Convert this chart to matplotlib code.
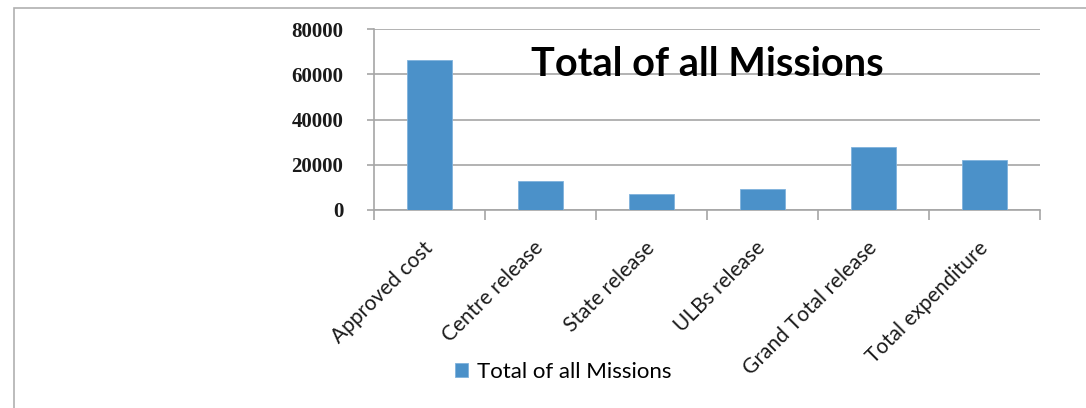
import matplotlib.pyplot as plt
from matplotlib.patches import Rectangle

# data
categories = ['Approved cost', 'Centre release', 'State release',
              'ULBs release', 'Grand Total release', 'Total expenditure']
values = [66300, 12900, 7000, 9100, 28000, 22000]
series_name = 'Total of all Missions'
yticks = [0, 20000, 40000, 60000, 80000]

bar_color = '#4b91c9'
grid_color = '#a6a6a6'

fig = plt.figure(figsize=(10.86, 4.08), dpi=100)
ax = fig.add_axes([0.3444, 0.4853, 0.6132, 0.4436])

x = list(range(len(categories)))
ax.bar(x, values, width=0.4, color=bar_color, edgecolor='#7fb2dc',
       linewidth=0.6, label=series_name, zorder=3)

ax.set_xlim(-0.5, len(categories) - 0.5)
ax.set_ylim(0, 80000)
ax.set_yticks(yticks)
ax.set_yticklabels([str(v) for v in yticks], family='Liberation Serif',
                   fontweight='bold', fontsize=15, color='#1a1a1a')
ax.yaxis.grid(True, color=grid_color, linewidth=1.2, zorder=0)
ax.tick_params(axis='y', length=5, color=grid_color, width=1.2, pad=17)

# category ticks sit on the boundaries, labels in the middle
ax.set_xticks([i - 0.5 for i in range(len(categories) + 1)])
ax.set_xticklabels([])
ax.set_xticks(x, minor=True)
ax.set_xticklabels(categories, minor=True, rotation=45, ha='right',
                   va='center', rotation_mode='anchor', family='Lato',
                   fontsize=15, color='#1a1a1a')
ax.tick_params(axis='x', which='major', length=7, color=grid_color, width=1.2)
ax.tick_params(axis='x', which='minor', length=0, pad=25)

for s in ['top', 'right']:
    ax.spines[s].set_visible(False)
for s in ['left', 'bottom']:
    ax.spines[s].set_color(grid_color)
    ax.spines[s].set_linewidth(1.2)

fig.text(707 / 1086, 1 - 76 / 408, series_name, ha='center', va='baseline',
         family='Lato', fontweight='bold', fontsize=28.5)

fig.legend(loc='center', bbox_to_anchor=(563 / 1086, 1 - 372 / 408),
           frameon=False, prop={'family': 'Lato', 'size': 16},
           handlelength=0.6, handleheight=0.6, handletextpad=0.4)

# outer chart border (only left and top edges visible)
fig.patches.append(Rectangle((14 / 1086, -0.1), 1.2, 0.1 + 1 - 8 / 408,
                             transform=fig.transFigure, fill=False,
                             edgecolor='#b0b0b0', linewidth=1.2))

fig.savefig('out.png', dpi=100)
